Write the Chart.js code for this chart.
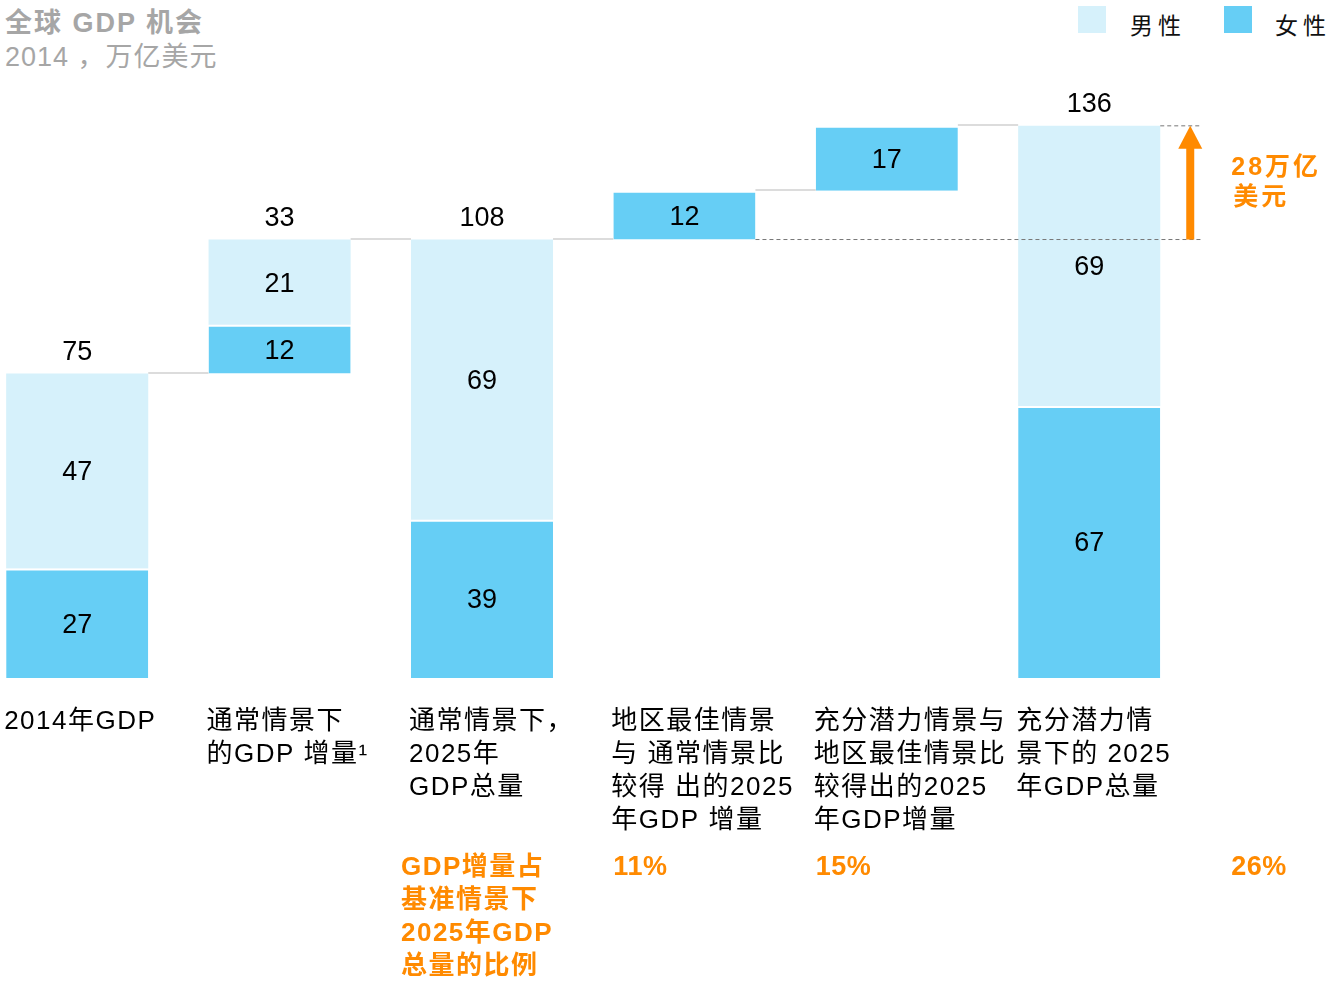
<!DOCTYPE html>
<html>
<head>
<meta charset="utf-8">
<script src="https://cdn.jsdelivr.net/npm/chart.js@4"></script>
<style>
  body { margin: 0; background: #fff; width: 1343px; height: 983px; position: relative; overflow: hidden;
         font-family: "Liberation Sans", "Noto Sans CJK SC", sans-serif; }
  #wrap { position: absolute; left: -24px; top: 0; width: 1367px; height: 983px; }
  .title { position: absolute; left: 5px; color: #a6a6a6; font-size: 27px; letter-spacing: 2px; white-space: nowrap; }
  .leg-box { position: absolute; top: 6px; width: 28px; height: 27px; }
  .leg-txt { position: absolute; top: 7px; font-size: 23px; letter-spacing: 5px; color: #111; }
</style>
</head>
<body>
<div class="title" style="top:1px;font-weight:bold;">全球 GDP 机会</div>
<div class="title" style="top:35px;letter-spacing:1px;">2014 ，万亿美元</div>
<div class="leg-box" style="left:1078px;background:#d6f1fb;"></div>
<div class="leg-txt" style="left:1130px;">男性</div>
<div class="leg-box" style="left:1224px;background:#66cef5;"></div>
<div class="leg-txt" style="left:1275px;">女性</div>
<div id="wrap"><canvas id="myChart"></canvas></div>
<script>
// categories (multi-line labels under the bars)
const categories = [
    ['2014年GDP'],
    ['通常情景下', '的GDP 增量¹'],
    ['通常情景下，', '2025年', 'GDP总量'],
    ['地区最佳情景', '与 通常情景比', '较得 出的2025', '年GDP 增量'],
    ['充分潜力情景与', '地区最佳情景比', '较得出的2025', '年GDP增量'],
    ['充分潜力情', '景下的 2025', '年GDP总量']
];
// floating segments [from, to], 万亿美元
const femaleBars = [[0, 27], [75, 87], [0, 39], [108, 120], [120, 136], [0, 67]];
const maleBars = [[27, 75], [87, 108], [39, 108], null, null, [67, 136]];
// printed labels
const femaleLabels = [27, 12, 39, 12, 17, 67];
const maleLabels = [47, 21, 69, null, null, 69];
const totalLabels = [75, 33, 108, null, null, 136];
const gapLabel = ['28万亿', '美元'];
const shareTitle = ['GDP增量占', '基准情景下', '2025年GDP', '总量的比例'];
const shares = ['11%', '15%', '26%'];

const orange = '#ff8a00';
const font = '"Liberation Sans", "Noto Sans CJK SC", sans-serif';

const extras = {
    id: 'extras',
    afterDatasetsDraw(chart) {
        const ctx = chart.ctx;
        const y = chart.scales.y;
        const fem = chart.getDatasetMeta(0).data;
        const male = chart.getDatasetMeta(1).data;
        const left = i => fem[i].x - fem[i].width / 2;
        const right = i => fem[i].x + fem[i].width / 2;
        const tops = femaleBars.map((f, i) => maleBars[i] ? maleBars[i][1] : f[1]);

        ctx.save();
        // connectors between bars
        ctx.strokeStyle = '#dcdcdc';
        ctx.lineWidth = 2;
        for (let i = 0; i < tops.length - 1; i++) {
            const py = Math.round(y.getPixelForValue(tops[i])) - 1;
            ctx.beginPath();
            ctx.moveTo(right(i), py);
            ctx.lineTo(left(i + 1), py);
            ctx.stroke();
        }

        // dashed reference lines + arrow
        const ax = right(5) + 30;
        const yLow = y.getPixelForValue(tops[2]);
        const yHigh = y.getPixelForValue(tops[5]);
        ctx.strokeStyle = '#777';
        ctx.lineWidth = 1;
        ctx.setLineDash([4, 3]);
        ctx.beginPath();
        ctx.moveTo(right(3), yLow); ctx.lineTo(ax + 12, yLow);
        ctx.moveTo(right(5), yHigh); ctx.lineTo(ax + 12, yHigh);
        ctx.stroke();
        ctx.setLineDash([]);
        ctx.fillStyle = orange;
        ctx.fillRect(ax - 4, yHigh + 20, 8, yLow - yHigh - 20);
        ctx.beginPath();
        ctx.moveTo(ax, yHigh);
        ctx.lineTo(ax - 12, yHigh + 23);
        ctx.lineTo(ax + 12, yHigh + 23);
        ctx.closePath();
        ctx.fill();
        ctx.font = 'bold 25px ' + font;
        ctx.textAlign = 'left';
        ctx.textBaseline = 'middle';
        ctx.letterSpacing = '3px';
        ctx.fillText(gapLabel[0], ax + 41, yHigh + 42);
        ctx.fillText(gapLabel[1], ax + 43, yHigh + 72);

        // values inside / above bars
        ctx.fillStyle = '#000';
        ctx.textAlign = 'center';
        ctx.font = '27px ' + font;
        ctx.letterSpacing = '0px';
        fem.forEach((b, i) => {
            ctx.fillText(femaleLabels[i], b.x, (b.y + b.base) / 2 + 2);
            if (maleLabels[i] != null) {
                const m = male[i];
                ctx.fillText(maleLabels[i], m.x, (m.y + m.base) / 2 + 2);
            }
            if (totalLabels[i] != null) {
                ctx.fillText(totalLabels[i], b.x, y.getPixelForValue(tops[i]) - 21);
            }
        });

        // category labels
        ctx.textAlign = 'left';
        ctx.font = '26px ' + font;
        ctx.letterSpacing = '1.5px';
        const base = y.getPixelForValue(0);
        categories.forEach((lines, i) => {
            lines.forEach((t, k) => ctx.fillText(t, left(i) - 2, base + 44 + k * 33));
        });

        // share of GDP row
        ctx.fillStyle = orange;
        ctx.font = 'bold 26px ' + font;
        shareTitle.forEach((t, k) => ctx.fillText(t, left(2) - 10, base + 190 + k * 33));
        ctx.font = 'bold 27px ' + font;
        ctx.letterSpacing = '0.5px';
        ctx.fillText(shares[0], left(3), base + 190);
        ctx.fillText(shares[1], left(4), base + 190);
        ctx.fillText(shares[2], ax + 41, base + 190);
        ctx.restore();
    }
};

new Chart(document.getElementById('myChart'), {
    type: 'bar',
    data: {
        labels: categories.map(c => c.join('')),
        datasets: [{
            label: '女性',
            data: femaleBars,
            backgroundColor: '#66cef5',
            borderColor: '#ffffff',
            borderWidth: {top: 2, bottom: 0, left: 0, right: 0},
            borderSkipped: false
        }, {
            label: '男性',
            data: maleBars,
            backgroundColor: '#d6f1fb',
            borderWidth: 0
        }]
    },
    options: {
        responsive: true,
        maintainAspectRatio: false,
        animation: false,
        layout: {padding: {left: 0, right: 152.6, top: 69, bottom: 305}},
        datasets: {bar: {categoryPercentage: 1, barPercentage: 0.702}},
        plugins: {legend: {display: false}, tooltip: {enabled: false}},
        scales: {
            x: {stacked: true, display: false},
            y: {stacked: false, display: false, min: 0, max: 150}
        }
    },
    plugins: [extras]
});
</script>
</body>
</html>
